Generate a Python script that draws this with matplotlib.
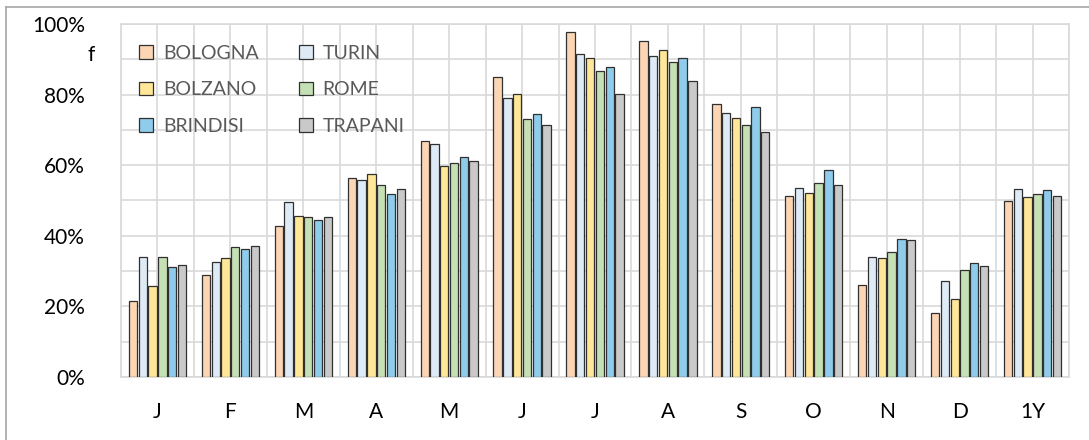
import numpy as np
import matplotlib
matplotlib.use("Agg")
import matplotlib.pyplot as plt
from matplotlib.lines import Line2D
from matplotlib.ticker import MultipleLocator, PercentFormatter

plt.rcParams['font.family'] = ['Lato', 'DejaVu Sans']

months = ['J', 'F', 'M', 'A', 'M', 'J', 'J', 'A', 'S', 'O', 'N', 'D', '1Y']
cities = ['BOLOGNA', 'TURIN', 'BOLZANO', 'ROME', 'BRINDISI', 'TRAPANI']

bologna = [21.6, 28.9, 42.8, 56.3, 66.8, 85.1, 97.6, 95.2, 77.4, 51.3, 26.1, 18.2, 49.8]
turin = [34.0, 32.7, 49.5, 55.7, 66.1, 79.1, 91.4, 91.0, 74.9, 53.5, 34.0, 27.3, 53.2]
bolzano = [25.8, 33.7, 45.6, 57.4, 59.9, 80.3, 90.5, 92.6, 73.5, 52.2, 33.6, 22.2, 51.0]
rome = [34.0, 36.8, 45.3, 54.5, 60.7, 73.1, 86.7, 89.1, 71.5, 55.0, 35.5, 30.2, 51.9]
brindisi = [31.1, 36.2, 44.4, 51.9, 62.4, 74.6, 87.9, 90.5, 76.6, 58.5, 39.0, 32.4, 52.9]
trapani = [31.7, 37.1, 45.3, 53.2, 61.1, 71.5, 80.3, 83.9, 69.3, 54.5, 38.7, 31.4, 51.3]

series = [bologna, turin, bolzano, rome, brindisi, trapani]
colors = ['#FCD5B5', '#DEEBF7', '#FFE699', '#C5E0B4', '#8FCBEA', '#C9C9C9']

fig = plt.figure(figsize=(10.89, 4.40), dpi=100)
ax = fig.add_axes([121 / 1089, 63 / 440, 948 / 1089, 353 / 440])

x = np.arange(len(months))
step = 0.134
width = 0.114
bars = []
for i, (vals, col) in enumerate(zip(series, colors)):
    b = ax.bar(x + (i - 2.5) * step, vals, width, color=col, edgecolor='#303030',
               linewidth=0.9, label=cities[i], zorder=3)
    bars.append(b)

ax.set_xlim(-0.5, len(months) - 0.5)
ax.set_ylim(0, 100)
ax.yaxis.set_major_locator(MultipleLocator(20))
ax.yaxis.set_minor_locator(MultipleLocator(10))
ax.yaxis.set_major_formatter(PercentFormatter(decimals=0))
ax.set_xticks(x)
ax.set_xticklabels(months)
ax.set_xticks(np.arange(-0.5, len(months)), minor=True)

ax.grid(True, which='both', color='#D9D9D9', linewidth=1.2, zorder=0)
ax.tick_params(which='both', length=0, labelsize=15, colors='#000000')
ax.tick_params(axis='x', pad=18)
ax.tick_params(axis='y', pad=26)
for s in ax.spines.values():
    s.set_color('#D9D9D9')
    s.set_linewidth(1.2)

# legend filled row by row: BOLOGNA/TURIN, BOLZANO/ROME, BRINDISI/TRAPANI
order = [0, 2, 4, 1, 3, 5]
leg = ax.legend([bars[i] for i in order], [cities[i] for i in order],
                ncol=2, loc='upper left', bbox_to_anchor=(0.001, 0.99),
                frameon=False, fontsize=14, handlelength=0.7, handleheight=0.7,
                handletextpad=0.5, columnspacing=2.1, labelspacing=1.0)
for t in leg.get_texts():
    t.set_color('#595959')

fig.text(95 / 1089, 1 - 55 / 440, 'f', ha='right', va='center', fontsize=15)

# outer chart border (top and left visible)
fig.add_artist(Line2D([6 / 1089, 1], [1 - 7 / 440, 1 - 7 / 440], color='#A6A6A6', linewidth=1.2))
fig.add_artist(Line2D([6 / 1089, 6 / 1089], [0, 1 - 7 / 440], color='#A6A6A6', linewidth=1.2))

fig.savefig('out.png', dpi=100)
